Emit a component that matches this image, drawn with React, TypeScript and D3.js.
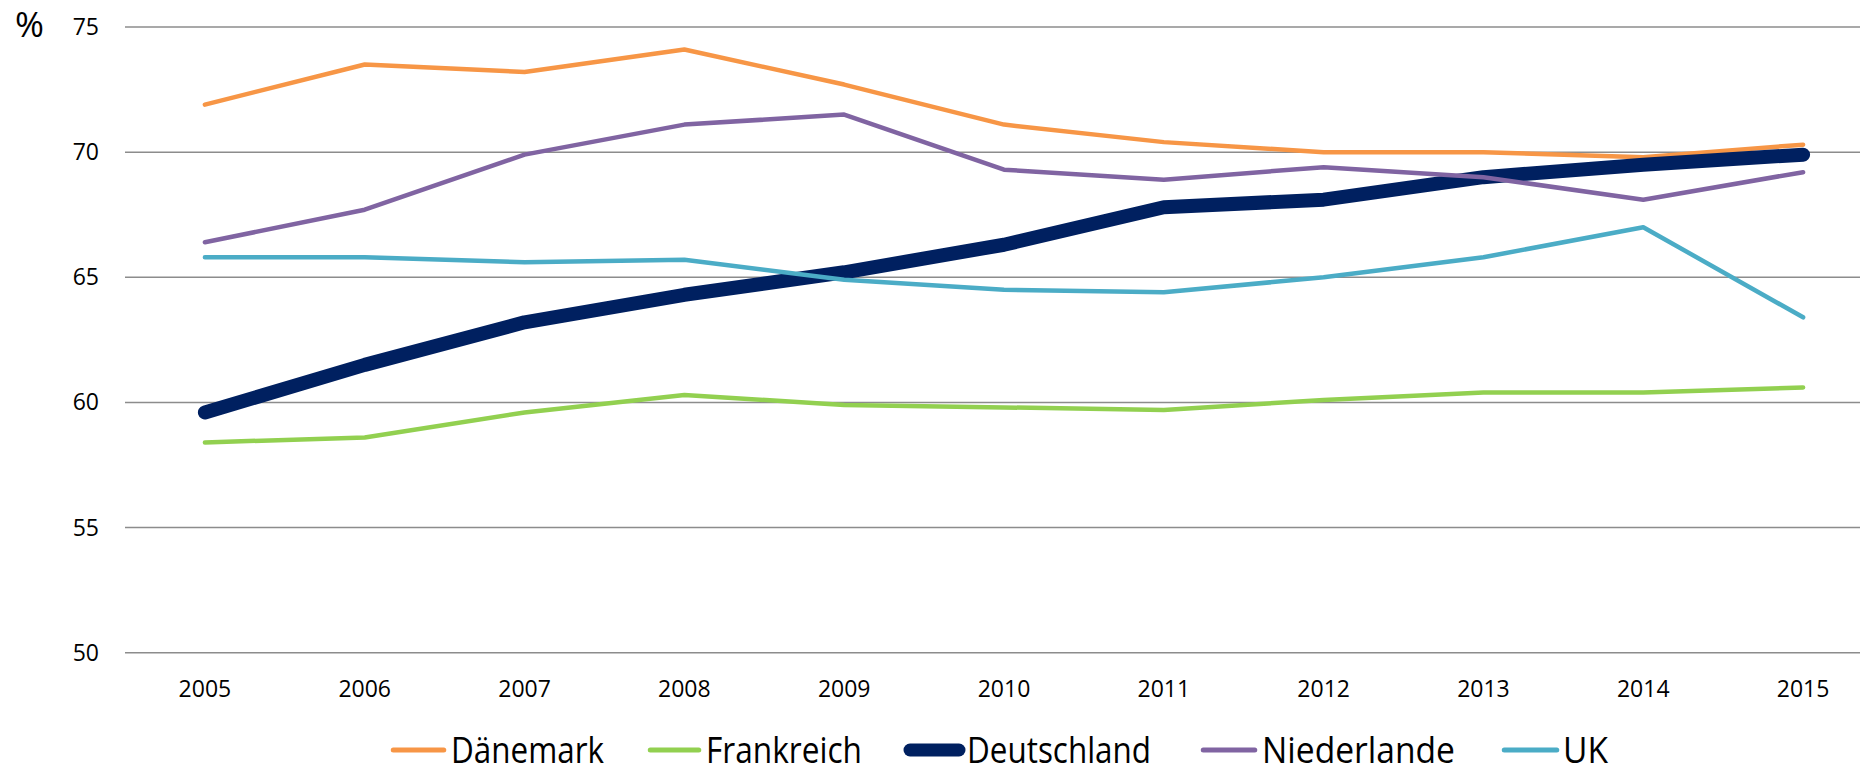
import React from "react";
import * as d3 from "d3";

const years = ["2005", "2006", "2007", "2008", "2009", "2010", "2011", "2012", "2013", "2014", "2015"];
const yTicks = [50, 55, 60, 65, 70, 75];

const daenemark = [71.9, 73.5, 73.2, 74.1, 72.7, 71.1, 70.4, 70.0, 70.0, 69.8, 70.3];
const frankreich = [58.4, 58.6, 59.6, 60.3, 59.9, 59.8, 59.7, 60.1, 60.4, 60.4, 60.6];
const deutschland = [59.6, 61.5, 63.2, 64.3, 65.2, 66.3, 67.8, 68.1, 69.0, 69.5, 69.9];
const niederlande = [66.4, 67.7, 69.9, 71.1, 71.5, 69.3, 68.9, 69.4, 69.0, 68.1, 69.2];
const uk = [65.8, 65.8, 65.6, 65.7, 64.9, 64.5, 64.4, 65.0, 65.8, 67.0, 63.4];

const seriesNames = ["Dänemark", "Frankreich", "Deutschland", "Niederlande", "UK"];
const seriesColors = ["#F79646", "#92D050", "#002060", "#8064A2", "#4BACC6"];
const seriesWidths = [4.5, 4.5, 14, 4.5, 4.5];
const seriesValues = [daenemark, frankreich, deutschland, niederlande, uk];

// legend layout (pixel positions of each item: line start, line end, text start, text end)
const legendLayout = [
  [391, 446, 451, 604],
  [648, 701, 706, 862],
  [903, 966, 967, 1151],
  [1201, 1257, 1262, 1455],
  [1502, 1559, 1563, 1608],
];

const W = 1860;
const H = 764;
const FONT = "'Open Sans', 'Noto Sans', sans-serif";

export default function App() {
  const x = d3.scaleBand<string>().domain(years).range([125, 1883]);
  const y = d3.scaleLinear().domain([50, 75]).range([652.7, 27]);
  const cx = (yr: string) => (x(yr) as number) + x.bandwidth() / 2;

  const line = d3
    .line<number>()
    .x((_, i) => cx(years[i]))
    .y((d) => y(d));

  return (
    <svg
      width={W}
      height={H}
      style={{ position: "absolute", left: 0, top: 0, background: "#fff" }}
      fontFamily={FONT}
    >
      <rect x={0} y={0} width={W} height={H} fill="#fff" />
      {yTicks.map((t) => (
        <g key={t}>
          <line x1={125} x2={W} y1={y(t)} y2={y(t)} stroke="#8c8c8c" strokeWidth={1.5} />
          <text x={99} y={y(t)} dy="0.35em" textAnchor="end" fontSize={23} fill="#000">
            {t}
          </text>
        </g>
      ))}
      <text x={15} y={37} fontSize={35} fill="#000">%</text>
      {years.map((yr) => (
        <text key={yr} x={cx(yr)} y={697} textAnchor="middle" fontSize={23} fill="#000">
          {yr}
        </text>
      ))}
      {seriesValues.map((vals, i) => (
        <path
          key={seriesNames[i]}
          d={line(vals) || ""}
          fill="none"
          stroke={seriesColors[i]}
          strokeWidth={seriesWidths[i]}
          strokeLinecap="round"
          strokeLinejoin="round"
        />
      ))}
      {seriesNames.map((name, i) => {
        const [l0, l1, t0, t1] = legendLayout[i];
        return (
          <g key={name}>
            <line
              x1={l0 + seriesWidths[i] / 2}
              x2={l1 - seriesWidths[i] / 2}
              y1={750}
              y2={750}
              stroke={seriesColors[i]}
              strokeWidth={seriesWidths[i] > 5 ? 13 : 5}
              strokeLinecap="round"
            />
            <text
              x={t0}
              y={763}
              fontSize={36}
              fill="#000"
              textLength={t1 - t0}
              lengthAdjust="spacingAndGlyphs"
            >
              {name}
            </text>
          </g>
        );
      })}
    </svg>
  );
}
